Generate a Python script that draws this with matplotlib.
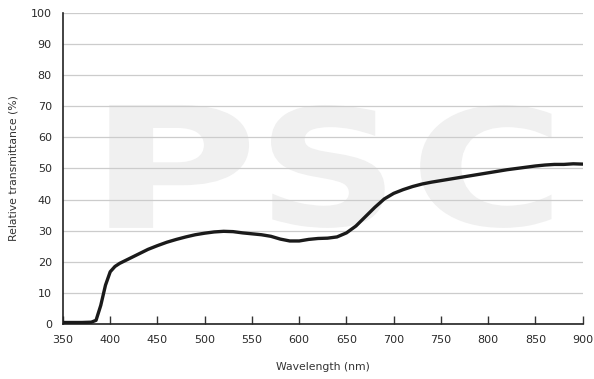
import matplotlib
matplotlib.use("Agg")
import matplotlib.pyplot as plt
from matplotlib.textpath import TextPath
from matplotlib.patches import PathPatch
from matplotlib.font_manager import FontProperties
from matplotlib.path import Path
import numpy as np

wavelength = [350, 360, 370, 380, 385, 390, 395, 400, 405, 410, 420, 430, 440, 450, 460, 470,
              480, 490, 500, 510, 520, 530, 540, 550, 560, 570, 580, 590, 600, 610, 620,
              630, 640, 650, 660, 670, 680, 690, 700, 710, 720, 730, 740, 750, 760, 770,
              780, 790, 800, 810, 820, 830, 840, 850, 860, 870, 880, 890, 900]
transmittance = [0.5, 0.5, 0.5, 0.6, 1.2, 6.0, 12.5, 16.8, 18.5, 19.5, 21.0, 22.5, 24.0, 25.2,
                 26.3, 27.2, 28.0, 28.7, 29.2, 29.6, 29.8, 29.7, 29.3, 29.0, 28.7, 28.2,
                 27.3, 26.7, 26.7, 27.2, 27.5, 27.6, 28.0, 29.3, 31.5, 34.5, 37.5, 40.2,
                 42.0, 43.2, 44.2, 45.0, 45.6, 46.1, 46.6, 47.1, 47.6, 48.1, 48.6, 49.1,
                 49.6, 50.0, 50.4, 50.8, 51.1, 51.3, 51.3, 51.5, 51.4]
x_ticks = [350, 400, 450, 500, 550, 600, 650, 700, 750, 800, 850, 900]
y_ticks = [0, 10, 20, 30, 40, 50, 60, 70, 80, 90, 100]
watermark = "PSC"

fig = plt.figure(figsize=(5.94, 3.79), dpi=100)
ax = fig.add_axes([0.106, 0.145, 0.875, 0.821])

# watermark letters fitted to boxes (axes fraction)
boxes = [(0.048, 0.358), (0.373, 0.619), (0.667, 0.940)]
y0, y1 = 0.309, 0.704
fp = FontProperties(family="DejaVu Sans", weight="bold")
for ch, (bx0, bx1) in zip(watermark, boxes):
    tp = TextPath((0, 0), ch, size=100, prop=fp)
    v = tp.vertices.copy()
    mn = v.min(axis=0); mx = v.max(axis=0)
    v[:, 0] = bx0 + (v[:, 0] - mn[0]) / (mx[0] - mn[0]) * (bx1 - bx0)
    v[:, 1] = y0 + (v[:, 1] - mn[1]) / (mx[1] - mn[1]) * (y1 - y0)
    patch = PathPatch(Path(v, tp.codes), facecolor="#f0f0f0", edgecolor="none",
                      transform=ax.transAxes, zorder=0.1)
    ax.add_patch(patch)

ax.plot(wavelength, transmittance, color="#1a1a1a", lw=2.4, zorder=3,
        solid_capstyle="round", solid_joinstyle="round")

ax.set_xlim(350, 900)
ax.set_ylim(0, 100)
ax.set_xticks(x_ticks)
ax.set_yticks(y_ticks)
ax.set_xticklabels([str(v) for v in x_ticks], fontsize=8, color="#2a2a2a")
ax.set_yticklabels([str(v) for v in y_ticks], fontsize=8, color="#2a2a2a")
ax.tick_params(axis="x", direction="in", length=6, width=1, color="#333333", pad=8)
ax.tick_params(axis="y", length=0, pad=8)
ax.grid(axis="y", color="#cccccc", lw=0.9)
ax.set_axisbelow(True)
for s in ["top", "right"]:
    ax.spines[s].set_visible(False)
for s in ["left", "bottom"]:
    ax.spines[s].set_color("#222222")
    ax.spines[s].set_linewidth(1.2)

ax.set_xlabel("Wavelength (nm)", fontsize=7.8, color="#333333", labelpad=12)
ax.set_ylabel("Relative transmittance (%)", fontsize=7.8, color="#333333", labelpad=9)

fig.savefig("out.png", dpi=100)
